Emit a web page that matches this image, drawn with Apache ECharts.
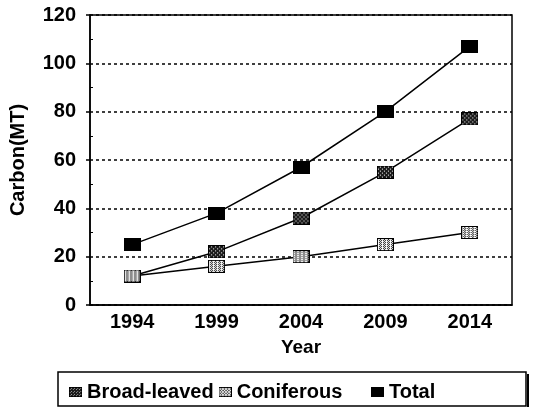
<!DOCTYPE html>
<html>
<head>
<meta charset="utf-8">
<script src="https://cdn.jsdelivr.net/npm/echarts@6/dist/echarts.min.js"></script>
<style>
    html, body { margin: 0; padding: 0; background: #fff; }
    #chart { width: 535px; height: 409px; }
</style>
</head>
<body>
<div id="chart"></div>
<script>
const years = ['1994', '1999', '2004', '2009', '2014'];
const broadLeaved = [12, 22, 36, 55, 77];
const coniferous = [12, 16, 20, 25, 30];
const total = [25, 38, 57, 80, 107];
const yTicks = [0, 20, 40, 60, 80, 100, 120];

// marker drawn as a small bitmap so the fill pattern isn't scaled
const makeMarker = (w, h, bg, fg, isDot) => {
    const c = document.createElement('canvas');
    c.width = w;
    c.height = h;
    const ctx = c.getContext('2d');
    ctx.fillStyle = bg;
    ctx.fillRect(0, 0, w, h);
    ctx.fillStyle = fg;
    for (let y = 1; y < h - 1; y++) {
        for (let x = 1; x < w - 1; x++) {
            if (isDot(x, y)) ctx.fillRect(x, y, 1, 1);
        }
    }
    ctx.strokeStyle = '#000';
    ctx.lineWidth = 2;
    ctx.strokeRect(0, 0, w, h);
    return 'image://' + c.toDataURL();
};

const broadIcon = makeMarker(17, 13, '#1c1c1c', '#ffffff', (x, y) => (x + y) % 4 === 0 && y % 2 === 1);
const conifIcon = makeMarker(17, 13, '#ffffff', '#1c1c1c', (x, y) => (x % 2 === 0 && y % 2 === 0) || ((x + 1) % 4 === 0 && y % 2 === 1));
const totalIcon = makeMarker(17, 13, '#000', '#000', () => false);

const font = 'Liberation Sans, Arial, sans-serif';

const mkSeries = (name, data, icon) => ({
    name: name,
    type: 'line',
    data: data,
    symbol: icon,
    symbolSize: [17, 13],
    lineStyle: { color: '#000', width: 1.5 },
    itemStyle: { color: '#000' },
    emphasis: { disabled: true },
    z: 3
});

const legendText = { fontFamily: font, fontWeight: 'bold', fontSize: 20, color: '#000' };

const chart = echarts.init(document.getElementById('chart'));
chart.setOption({
    animation: false,
    grid: {
        left: 85, right: 23, top: 15, bottom: 104,
        show: true, borderColor: '#000', borderWidth: 1.5
    },
    legend: [{
        left: 64, top: 377,
        itemWidth: 13, itemHeight: 11, itemGap: 5,
        data: [
            { name: 'Broad-leaved', icon: broadIcon },
            { name: 'Coniferous', icon: conifIcon }
        ],
        textStyle: legendText
    }, {
        left: 366, top: 377,
        itemWidth: 13, itemHeight: 11,
        data: [{ name: 'Total', icon: totalIcon }],
        textStyle: legendText
    }],
    graphic: [{
        type: 'rect',
        shape: { x: 58, y: 372, width: 468, height: 34 },
        style: { fill: 'none', stroke: '#000', lineWidth: 1.5 },
        silent: true
    }, {
        type: 'line',
        shape: { x1: 528, y1: 374, x2: 528, y2: 407 },
        style: { stroke: '#000', lineWidth: 2 },
        silent: true
    }],
    xAxis: {
        type: 'category',
        data: years,
        name: 'Year',
        nameLocation: 'middle',
        nameGap: 33,
        nameTextStyle: { fontFamily: font, fontWeight: 'bold', fontSize: 19, color: '#000' },
        axisLine: { lineStyle: { color: '#000', width: 1.5 } },
        axisTick: { alignWithLabel: true, length: 5, lineStyle: { color: '#000', width: 1.5 } },
        axisLabel: { fontFamily: font, fontWeight: 'bold', fontSize: 20, color: '#000', margin: 7 }
    },
    yAxis: {
        type: 'value',
        min: yTicks[0],
        max: yTicks[yTicks.length - 1],
        interval: 20,
        name: 'Carbon(MT)',
        nameLocation: 'middle',
        nameGap: 62,
        nameTextStyle: { fontFamily: font, fontWeight: 'bold', fontSize: 20, color: '#000' },
        axisLine: { show: true, lineStyle: { color: '#000', width: 1.5 } },
        axisTick: { show: true, length: 4, lineStyle: { color: '#000', width: 1.5 } },
        minorTick: { show: true, splitNumber: 2, length: -3, lineStyle: { color: '#000' } },
        axisLabel: { fontFamily: font, fontWeight: 'bold', fontSize: 20, color: '#000', margin: 14 },
        splitLine: {
            show: true,
            lineStyle: { color: '#000', type: [3, 3], width: 1.5 }
        }
    },
    series: [
        mkSeries('Broad-leaved', broadLeaved, broadIcon),
        mkSeries('Coniferous', coniferous, conifIcon),
        mkSeries('Total', total, totalIcon)
    ]
});
</script>
</body>
</html>
